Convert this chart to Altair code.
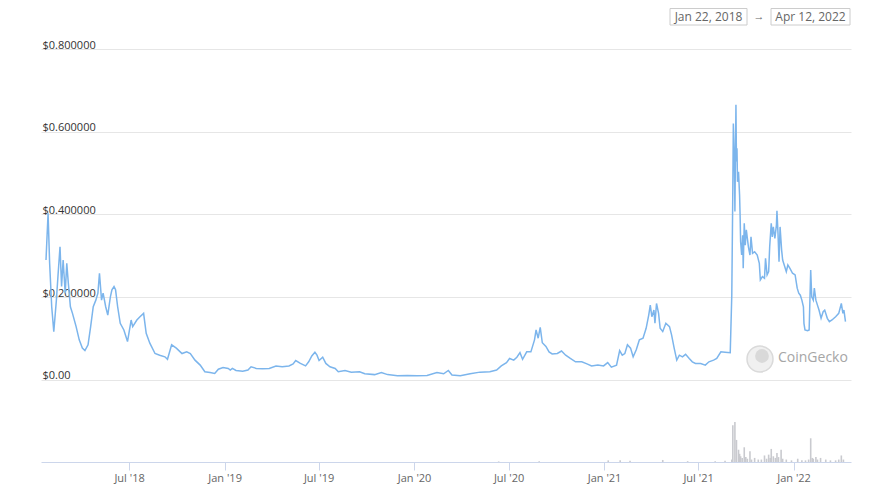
import altair as alt
import pandas as pd

# ---- data ----
START = "2018-01-22"
END = "2022-04-12"

# price series: days since Jan 22, 2018 and price in USD
price_days = [0, 4, 7, 11, 15, 20, 23, 27, 30, 33, 37, 40, 43, 47, 51, 58, 64, 70, 75, 81,
              86, 91, 96, 100, 103, 107, 110, 115, 119, 124, 127, 131, 134, 138, 143, 150, 157, 164, 167, 175,
              181, 188, 193, 200, 210, 219, 229, 234, 242, 251, 262, 271, 278, 287, 297, 306, 316, 325, 332, 341,
              351, 355, 359, 366, 379, 389, 395, 405, 417, 430, 443, 455, 468, 476, 481, 490, 500, 506, 512, 518,
              522, 526, 533, 539, 547, 557, 563, 576, 588, 604, 614, 633, 646, 658, 677, 696, 715, 734, 753, 766,
              775, 782, 798, 817, 836, 855, 868, 877, 887, 893, 901, 907, 913, 918, 926, 934, 941, 944, 948, 952,
              956, 963, 969, 975, 985, 993, 1001, 1010, 1020, 1032, 1042, 1051, 1063, 1074, 1082, 1089, 1099, 1105, 1110, 1115,
              1120, 1126, 1131, 1137, 1143, 1150, 1156, 1161, 1164, 1167, 1171, 1173, 1176, 1180, 1183, 1188, 1194, 1201, 1205, 1210,
              1215, 1220, 1226, 1232, 1239, 1245, 1251, 1261, 1270, 1277, 1286, 1292, 1300, 1308, 1318, 1321, 1323, 1324, 1326, 1327,
              1329, 1330, 1331, 1332, 1334, 1336, 1337, 1338, 1340, 1342, 1343, 1345, 1347, 1349, 1353, 1356, 1358, 1361, 1365, 1370,
              1374, 1376, 1380, 1384, 1386, 1389, 1392, 1394, 1397, 1399, 1401, 1404, 1407, 1408, 1410, 1412, 1414, 1417, 1419, 1422,
              1426, 1429, 1433, 1438, 1443, 1447, 1450, 1453, 1456, 1459, 1460, 1462, 1467, 1470, 1473, 1475, 1478, 1480, 1483, 1486,
              1489, 1493, 1497, 1500, 1505, 1509, 1514, 1521, 1527, 1532, 1535, 1537, 1540]
price_usd = [0.290, 0.403, 0.282, 0.177, 0.117, 0.193, 0.250, 0.322, 0.226, 0.290, 0.210, 0.282, 0.234, 0.177, 0.161, 0.129, 0.097, 0.077, 0.071, 0.085,
             0.129, 0.177, 0.193, 0.210, 0.258, 0.193, 0.210, 0.177, 0.157, 0.201, 0.218, 0.226, 0.218, 0.177, 0.137, 0.121, 0.093, 0.145, 0.129, 0.145,
             0.153, 0.161, 0.113, 0.089, 0.064, 0.060, 0.056, 0.050, 0.085, 0.077, 0.064, 0.068, 0.064, 0.048, 0.036, 0.020, 0.018, 0.016, 0.026, 0.030,
             0.028, 0.024, 0.028, 0.023, 0.021, 0.024, 0.032, 0.028, 0.027, 0.028, 0.034, 0.032, 0.034, 0.039, 0.047, 0.040, 0.034, 0.044, 0.058, 0.067,
             0.060, 0.047, 0.055, 0.040, 0.032, 0.028, 0.020, 0.023, 0.019, 0.020, 0.015, 0.013, 0.018, 0.013, 0.010, 0.011, 0.010, 0.011, 0.018, 0.015,
             0.023, 0.012, 0.010, 0.015, 0.019, 0.020, 0.024, 0.034, 0.042, 0.052, 0.048, 0.055, 0.066, 0.050, 0.068, 0.068, 0.097, 0.121, 0.101, 0.127,
             0.090, 0.081, 0.068, 0.063, 0.064, 0.070, 0.060, 0.052, 0.044, 0.044, 0.039, 0.034, 0.036, 0.034, 0.042, 0.031, 0.036, 0.071, 0.060, 0.064,
             0.085, 0.077, 0.056, 0.073, 0.097, 0.101, 0.125, 0.157, 0.181, 0.153, 0.169, 0.137, 0.185, 0.161, 0.125, 0.117, 0.137, 0.129, 0.109, 0.077,
             0.048, 0.060, 0.056, 0.062, 0.052, 0.044, 0.040, 0.040, 0.036, 0.044, 0.048, 0.052, 0.068, 0.067, 0.066, 0.205, 0.463, 0.620, 0.528, 0.407,
             0.665, 0.528, 0.560, 0.479, 0.503, 0.447, 0.399, 0.334, 0.302, 0.350, 0.270, 0.379, 0.326, 0.363, 0.322, 0.302, 0.346, 0.306, 0.310, 0.302,
             0.282, 0.242, 0.250, 0.246, 0.294, 0.254, 0.262, 0.322, 0.379, 0.346, 0.370, 0.342, 0.375, 0.409, 0.355, 0.286, 0.370, 0.314, 0.290, 0.278,
             0.262, 0.278, 0.270, 0.258, 0.254, 0.222, 0.210, 0.205, 0.193, 0.177, 0.137, 0.121, 0.119, 0.121, 0.266, 0.201, 0.193, 0.222, 0.193, 0.181,
             0.169, 0.149, 0.165, 0.169, 0.149, 0.141, 0.145, 0.153, 0.161, 0.185, 0.161, 0.169, 0.141]

# trading volume (relative units) : days since Jan 22, 2018
volume_days = [872, 950, 1083, 1106, 1125, 1188, 1236, 1289, 1308, 1321, 1323, 1327, 1330, 1334, 1336, 1338,
               1341, 1345, 1348, 1351, 1356, 1359, 1365, 1372, 1378, 1384, 1388, 1392, 1395, 1397, 1401, 1405,
               1408, 1411, 1416, 1419, 1426, 1436, 1448, 1456, 1463, 1469, 1473, 1476, 1478, 1483, 1486, 1492,
               1502, 1511, 1521, 1527, 1532, 1536]
volume = [0.7, 0.8, 2, 2, 1.5, 2.5, 1, 1, 1.5, 3, 45, 49, 27, 15, 10, 7,
          5, 18, 6, 4, 13, 3, 5, 3, 3, 8, 4, 9, 5, 16, 7, 5,
          11, 6, 15, 4, 3, 2, 4, 2, 2, 3, 29, 5, 4, 6, 3, 5,
          3, 2, 2, 3, 8, 3]

y_ticks = [0, 0.2, 0.4, 0.6, 0.8]
x_ticks = [(2018, 7), (2019, 1), (2019, 7), (2020, 1), (2020, 7), (2021, 1), (2021, 7), (2022, 1)]
range_labels = ["Jan 22, 2018", "Apr 12, 2022"]
brand = "CoinGecko"

# ---- tables ----
start = pd.Timestamp(START)
price_df = pd.DataFrame({
    "date": [(start + pd.Timedelta(days=d)).strftime("%Y-%m-%d") for d in price_days],
    "price": price_usd,
})
vol_df = pd.DataFrame({
    "date": [(start + pd.Timedelta(days=d)).strftime("%Y-%m-%d") for d in volume_days],
    "volume": volume,
})

FONT = "Open Sans"
W, H = 810, 413

def dt(s):
    t = pd.Timestamp(s)
    return alt.DateTime(year=t.year, month=t.month, date=t.day, utc=True)

x_scale = alt.Scale(type="utc", domain=[dt(START), dt(END)], nice=False)

x_axis = alt.Axis(
    values=[alt.DateTime(year=y, month=m, date=1, utc=True) for y, m in x_ticks],
    labelExpr="utcFormat(datum.value, \"%b '%y\")",
    title=None, grid=False, domainColor="#ccd6eb", tickColor="#ccd6eb",
    tickSize=8, labelPadding=2, labelColor="#666666", labelFont=FONT, labelFontSize=11,
    labelFlush=False, labelOverlap=False,
)

y_axis = alt.Axis(
    values=y_ticks, title=None, domain=False, ticks=False, tickSize=0,
    grid=True, gridColor="#e6e6e6", gridWidth=1,
    labelAlign="left", labelBaseline="alphabetic", labelPadding=-1, labelOffset=-1,
    labelColor="#333333", labelFont=FONT, labelFontSize=11,
    labelExpr="datum.value == 0 ? '$0.00' : '$' + format(datum.value, '.6f')",
)

price_line = alt.Chart(price_df).mark_line(color="#7cb5ec", strokeWidth=1.5).encode(
    x=alt.X("date:T", scale=x_scale, axis=x_axis),
    y=alt.Y("price:Q", scale=alt.Scale(domain=[-0.1982, 0.8], nice=False, zero=False), axis=y_axis),
)

vol_bars = alt.Chart(vol_df).mark_bar(color="#c9cacf", width=1.6).encode(
    x=alt.X("date:T", scale=x_scale),
    y=alt.Y("volume:Q", scale=alt.Scale(domain=[0, 505], nice=False), axis=None),
)

# watermark
logo = alt.Chart(pd.DataFrame({"k": [1]})).mark_point(
    shape="circle", filled=True, fill="#f0f0f0", stroke="#dadada", strokeWidth=1.5, size=676, opacity=1
).encode(x=alt.value(719), y=alt.value(310))
logo_head = alt.Chart(pd.DataFrame({"k": [1]})).mark_point(
    shape="circle", filled=True, fill="#d9d9d9", size=190, opacity=1
).encode(x=alt.value(721), y=alt.value(307))
brand_text = alt.Chart(pd.DataFrame({"t": [brand]})).mark_text(
    align="left", baseline="middle", font=FONT, fontSize=14, color="#a6a6a6"
).encode(text="t:N", x=alt.value(737), y=alt.value(309))

# date range header
box_df = pd.DataFrame({"t": range_labels, "x0": [629, 730], "x1": [706, 809]})
boxes = alt.Chart(box_df).mark_rect(fill="white", stroke="#cccccc", strokeWidth=1).encode(
    x=alt.X("x0:Q", scale=None), x2="x1:Q", y=alt.value(-40.5), y2=alt.value(-24)
)
box_text = alt.Chart(box_df.assign(xc=(box_df.x0 + box_df.x1) / 2)).mark_text(
    align="center", baseline="middle", font=FONT, fontSize=12, color="#666666"
).encode(x=alt.X("xc:Q", scale=None), y=alt.value(-32), text="t:N")
arrow = alt.Chart(pd.DataFrame({"t": ["→"]})).mark_text(
    align="center", baseline="middle", font=FONT, fontSize=11, color="#666666"
).encode(x=alt.value(718), y=alt.value(-32), text="t:N")

chart = alt.layer(
    vol_bars, price_line, logo, logo_head, brand_text, boxes, box_text, arrow
).resolve_scale(y="independent").properties(
    width=W, height=H,
    autosize=alt.AutoSizeParams(type="none"),
    padding={"left": 33, "top": 41, "right": 23, "bottom": 24},
    background="white",
).configure_view(stroke=None)

chart.save("out.html", embed_options={"renderer": "svg", "actions": False})
